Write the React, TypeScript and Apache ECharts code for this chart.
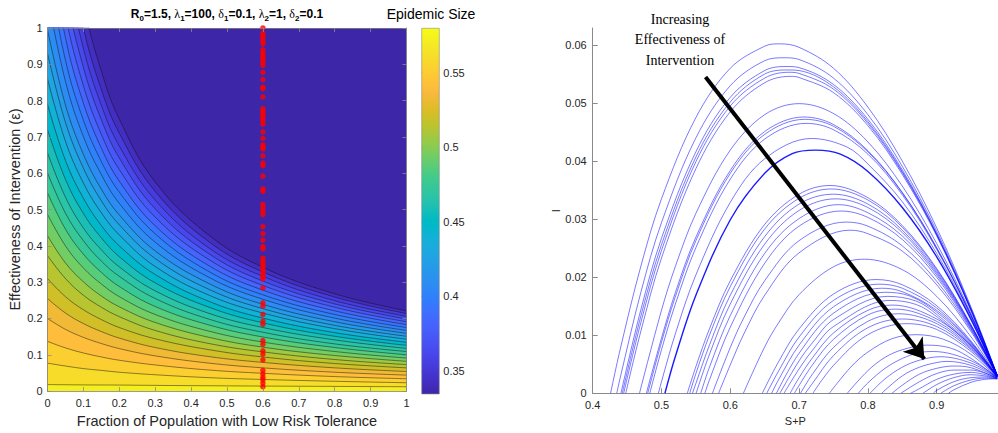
import React, { useEffect, useRef } from "react";
import * as echarts from "echarts";

// ---------- palette (MATLAB parula, 64 steps) ----------
const PARULA = [
  "#3e26a8", "#402ab4", "#422ec0", "#4332cb", "#4537d5", "#463cde", "#4741e5", "#4747eb",
  "#484df0", "#4852f4", "#4758f8", "#465efb", "#4563fd", "#4269fe", "#3e6fff", "#3875fe",
  "#327cfc", "#2f81fa", "#2e87f7", "#2d8cf3", "#2b91ef", "#2796eb", "#259be8", "#23a0e5",
  "#20a5e3", "#1ca9df", "#18addb", "#12b1d6", "#08b5d0", "#01b8ca", "#02bac3", "#0bbdbd",
  "#19bfb6", "#24c1ae", "#2cc4a7", "#31c69f", "#37c897", "#3fca8e", "#4acb84", "#57cc7a",
  "#64cd6f", "#72cd64", "#81cc59", "#8fcb4e", "#9dc943", "#abc739", "#b9c431", "#c5c22a",
  "#d1bf27", "#dcbd29", "#e6bb2d", "#f0ba36", "#f8ba3d", "#febe3c", "#fec338", "#fec934",
  "#fccf30", "#fad62d", "#f7dc2a", "#f5e327", "#f5e924", "#f6ef20", "#f7f51b", "#f9fb15",
];

// ---------- left panel data ----------
const COLOR_MIN = 0.3346;
const COLOR_MAX = 0.5798;
const COLORBAR_TICKS = [0.35, 0.4, 0.45, 0.5, 0.55];
const LEVELS = [
  0.344, 0.3534, 0.3629, 0.3723, 0.3817, 0.3912, 0.4006, 0.41, 0.4195, 0.4289, 0.4383, 0.4478, 0.4572,
  0.4666, 0.4761, 0.4855, 0.4949, 0.5044, 0.5138, 0.5232, 0.5327, 0.5421, 0.5515, 0.561, 0.5704,
];
const CONTOUR_F = [0, 0.05, 0.1, 0.15, 0.2, 0.3, 0.45, 0.6, 0.8, 1.0];
const CONTOUR_EPS = [
  [1.861, 1.357, 1.068, 0.881, 0.749, 0.576, 0.429, 0.341, 0.268, 0.221],
  [1.693, 1.257, 1.0, 0.83, 0.71, 0.55, 0.411, 0.328, 0.259, 0.2135],
  [1.569, 1.179, 0.944, 0.787, 0.675, 0.526, 0.394, 0.316, 0.249, 0.206],
  [1.456, 1.106, 0.891, 0.747, 0.642, 0.502, 0.378, 0.303, 0.24, 0.1985],
  [1.353, 1.037, 0.841, 0.707, 0.61, 0.479, 0.362, 0.291, 0.231, 0.191],
  [1.259, 0.973, 0.793, 0.669, 0.578, 0.455, 0.345, 0.278, 0.221, 0.183],
  [1.171, 0.911, 0.746, 0.632, 0.548, 0.433, 0.329, 0.265, 0.211, 0.175],
  [1.088, 0.853, 0.701, 0.596, 0.517, 0.41, 0.313, 0.253, 0.201, 0.167],
  [0.995, 0.788, 0.652, 0.556, 0.485, 0.386, 0.296, 0.239, 0.191, 0.159],
  [0.93, 0.74, 0.614, 0.524, 0.458, 0.365, 0.28, 0.227, 0.181, 0.151],
  [0.86, 0.688, 0.573, 0.491, 0.43, 0.343, 0.264, 0.215, 0.172, 0.143],
  [0.79, 0.635, 0.531, 0.456, 0.4, 0.321, 0.247, 0.201, 0.161, 0.1345],
  [0.72, 0.583, 0.489, 0.422, 0.37, 0.298, 0.231, 0.188, 0.151, 0.126],
  [0.656, 0.534, 0.449, 0.389, 0.342, 0.276, 0.214, 0.175, 0.141, 0.1175],
  [0.601, 0.49, 0.414, 0.358, 0.316, 0.255, 0.198, 0.162, 0.13, 0.109],
  [0.546, 0.446, 0.377, 0.327, 0.288, 0.233, 0.182, 0.149, 0.12, 0.1],
  [0.487, 0.4, 0.339, 0.295, 0.26, 0.211, 0.165, 0.135, 0.109, 0.091],
  [0.428, 0.353, 0.301, 0.262, 0.232, 0.189, 0.148, 0.121, 0.098, 0.082],
  [0.373, 0.31, 0.264, 0.231, 0.205, 0.167, 0.131, 0.108, 0.087, 0.073],
  [0.31, 0.26, 0.224, 0.197, 0.175, 0.144, 0.114, 0.094, 0.076, 0.064],
  [0.255, 0.215, 0.186, 0.164, 0.146, 0.12, 0.095, 0.079, 0.064, 0.054],
  [0.2, 0.17, 0.148, 0.131, 0.117, 0.097, 0.077, 0.064, 0.052, 0.044],
  [0.137, 0.119, 0.105, 0.094, 0.085, 0.072, 0.058, 0.049, 0.04, 0.034],
  [0.077, 0.069, 0.062, 0.057, 0.052, 0.045, 0.037, 0.032, 0.027, 0.023],
  [0.018, 0.0175, 0.017, 0.0168, 0.0166, 0.0157, 0.0147, 0.0138, 0.0129, 0.012],
];
const DOT_F = 0.6;
const DOT_EPS = [
  1.0, 0.985, 0.978, 0.971, 0.964, 0.956, 0.94, 0.933, 0.926, 0.919, 0.913, 0.905, 0.897, 0.878, 0.858,
  0.837, 0.833, 0.81, 0.778, 0.771, 0.764, 0.758, 0.75, 0.744, 0.735, 0.714, 0.696, 0.678, 0.672, 0.667,
  0.648, 0.628, 0.621, 0.592, 0.557, 0.55, 0.514, 0.505, 0.495, 0.486, 0.453, 0.434, 0.416, 0.398, 0.392,
  0.366, 0.359, 0.352, 0.344, 0.337, 0.33, 0.322, 0.315, 0.309, 0.284, 0.243, 0.234, 0.211, 0.193, 0.184,
  0.139, 0.129, 0.111, 0.102, 0.086, 0.057, 0.047, 0.038, 0.031, 0.022, 0.012,
];

// ---------- right panel data (S+P, I) ----------
const X_TICKS_R = [0.4, 0.5, 0.6, 0.7, 0.8, 0.9];
const Y_TICKS_R = [0, 0.01, 0.02, 0.03, 0.04, 0.05, 0.06];
const CURVES_A = [
  [[0.426, 0], [0.44, 0.0076], [0.47, 0.0219], [0.5, 0.0335], [0.55, 0.0475], [0.6, 0.056], [0.65, 0.0598], [0.672, 0.0602], [0.7, 0.0596], [0.75, 0.056], [0.8, 0.0493], [0.85, 0.04], [0.9, 0.0285], [0.95, 0.0148], [0.988, 0.0031]],
  [[0.435, 0], [0.44, 0.0027], [0.47, 0.0174], [0.5, 0.0294], [0.55, 0.044], [0.6, 0.053], [0.65, 0.0573], [0.678, 0.0578], [0.7, 0.0575], [0.75, 0.0543], [0.8, 0.048], [0.85, 0.0391], [0.9, 0.0279], [0.95, 0.0146], [0.988, 0.0031]],
  [[0.441, 0], [0.47, 0.0144], [0.5, 0.0267], [0.55, 0.0416], [0.6, 0.051], [0.65, 0.0556], [0.682, 0.0563], [0.7, 0.0561], [0.75, 0.0532], [0.8, 0.0472], [0.85, 0.0385], [0.9, 0.0275], [0.95, 0.0144], [0.988, 0.003]],
  [[0.443, 0], [0.47, 0.0133], [0.5, 0.0256], [0.55, 0.0407], [0.6, 0.0502], [0.65, 0.055], [0.684, 0.0557], [0.7, 0.0556], [0.75, 0.0528], [0.8, 0.0468], [0.85, 0.0382], [0.9, 0.0274], [0.95, 0.0143], [0.988, 0.003]],
  [[0.445, 0], [0.47, 0.0122], [0.5, 0.0246], [0.55, 0.0399], [0.6, 0.0495], [0.65, 0.0543], [0.685, 0.0553], [0.7, 0.0551], [0.75, 0.0524], [0.8, 0.0465], [0.85, 0.038], [0.9, 0.0273], [0.95, 0.0143], [0.988, 0.003]],
  [[0.448, 0], [0.47, 0.0107], [0.5, 0.0233], [0.55, 0.0387], [0.6, 0.0485], [0.65, 0.0535], [0.687, 0.0546], [0.7, 0.0544], [0.75, 0.0518], [0.8, 0.0461], [0.85, 0.0377], [0.9, 0.0271], [0.95, 0.0142], [0.988, 0.003]],
];
const CURVES_B = [
  [[0.468, 0], [0.5, 0.0143], [0.52, 0.0218], [0.55, 0.031], [0.6, 0.0419], [0.65, 0.048], [0.7, 0.0499], [0.75, 0.0482], [0.8, 0.0433], [0.85, 0.0357], [0.9, 0.0258], [0.95, 0.0137], [0.988, 0.0031]],
  [[0.478, 0], [0.5, 0.0095], [0.52, 0.0173], [0.55, 0.0269], [0.6, 0.0384], [0.65, 0.0451], [0.707, 0.0476], [0.75, 0.0463], [0.8, 0.0418], [0.85, 0.0346], [0.9, 0.0251], [0.95, 0.0134], [0.988, 0.003]],
  [[0.48, 0], [0.5, 0.0088], [0.52, 0.0166], [0.55, 0.0263], [0.6, 0.0379], [0.65, 0.0446], [0.708, 0.0472], [0.75, 0.046], [0.8, 0.0416], [0.85, 0.0345], [0.9, 0.025], [0.95, 0.0134], [0.988, 0.003]],
  [[0.483, 0], [0.5, 0.0075], [0.52, 0.0153], [0.55, 0.0251], [0.6, 0.0369], [0.65, 0.0438], [0.71, 0.0465], [0.75, 0.0454], [0.8, 0.0412], [0.85, 0.0342], [0.9, 0.0248], [0.95, 0.0133], [0.988, 0.003]],
  [[0.4955, 0], [0.5, 0.002], [0.52, 0.0102], [0.55, 0.0204], [0.6, 0.0329], [0.65, 0.0404], [0.718, 0.0439], [0.77, 0.0424], [0.8, 0.0395], [0.85, 0.033], [0.9, 0.0241], [0.95, 0.013], [0.988, 0.003]],
];
const CURVE_B_BOLD = [[0.505, 0], [0.52, 0.0063], [0.55, 0.0169], [0.6, 0.0299], [0.65, 0.0379], [0.69, 0.0413], [0.724, 0.0419], [0.76, 0.0412], [0.8, 0.0382], [0.85, 0.032], [0.9, 0.0235], [0.95, 0.0127], [0.988, 0.003]];
const CURVES_C = [
  [[0.5375, 0], [0.55, 0.0046], [0.57, 0.0112], [0.6, 0.0194], [0.65, 0.0291], [0.7, 0.0343], [0.745, 0.0358], [0.8, 0.0337], [0.85, 0.0289], [0.9, 0.0215], [0.95, 0.0118], [0.988, 0.003]],
  [[0.541, 0], [0.55, 0.0034], [0.57, 0.0101], [0.6, 0.0184], [0.65, 0.0283], [0.7, 0.0336], [0.747, 0.0352], [0.8, 0.0333], [0.85, 0.0286], [0.9, 0.0213], [0.95, 0.0117], [0.988, 0.003]],
  [[0.545, 0], [0.55, 0.0017], [0.57, 0.0084], [0.6, 0.0169], [0.65, 0.027], [0.7, 0.0326], [0.75, 0.0343], [0.8, 0.0326], [0.85, 0.0281], [0.9, 0.021], [0.95, 0.0116], [0.988, 0.003]],
  [[0.5503, 0], [0.57, 0.0068], [0.6, 0.0154], [0.65, 0.0257], [0.7, 0.0315], [0.753, 0.0335], [0.8, 0.032], [0.85, 0.0277], [0.9, 0.0207], [0.95, 0.0115], [0.988, 0.003]],
  [[0.557, 0], [0.57, 0.0046], [0.6, 0.0134], [0.65, 0.0241], [0.7, 0.0301], [0.757, 0.0325], [0.8, 0.0311], [0.85, 0.0271], [0.9, 0.0204], [0.95, 0.0113], [0.988, 0.003]],
  [[0.563, 0], [0.57, 0.0024], [0.6, 0.0114], [0.65, 0.0224], [0.7, 0.0288], [0.761, 0.0314], [0.8, 0.0303], [0.85, 0.0265], [0.9, 0.02], [0.95, 0.0111], [0.988, 0.003]],
  [[0.574, 0], [0.6, 0.0079], [0.62, 0.0131], [0.65, 0.0194], [0.7, 0.0263], [0.768, 0.0295], [0.8, 0.0288], [0.85, 0.0254], [0.9, 0.0193], [0.95, 0.0109], [0.988, 0.003]],
  [[0.583, 0], [0.6, 0.0049], [0.62, 0.0103], [0.65, 0.0169], [0.7, 0.0242], [0.774, 0.0281], [0.8, 0.0275], [0.85, 0.0245], [0.9, 0.0187], [0.95, 0.0106], [0.988, 0.003]],
];
const CURVES_D = [
  [[0.619, 0], [0.65, 0.008], [0.67, 0.0121], [0.7, 0.017], [0.75, 0.0218], [0.795, 0.0231], [0.85, 0.0213], [0.9, 0.0167], [0.95, 0.0097], [0.988, 0.0029]],
];
const CURVES_E = [
  [[0.6465, 0], [0.67, 0.0054], [0.7, 0.0111], [0.75, 0.0171], [0.812, 0.0196], [0.85, 0.0187], [0.9, 0.0151], [0.95, 0.009], [0.988, 0.0029]],
  [[0.653, 0], [0.67, 0.0038], [0.7, 0.0097], [0.75, 0.016], [0.816, 0.0188], [0.85, 0.0181], [0.9, 0.0147], [0.95, 0.0088], [0.988, 0.0029]],
  [[0.66, 0], [0.67, 0.0023], [0.7, 0.0083], [0.75, 0.0149], [0.82, 0.0181], [0.85, 0.0175], [0.9, 0.0143], [0.95, 0.0087], [0.988, 0.0029]],
  [[0.667, 0], [0.7, 0.0069], [0.75, 0.0138], [0.824, 0.0174], [0.86, 0.0168], [0.9, 0.014], [0.95, 0.0085], [0.988, 0.0029]],
  [[0.672, 0], [0.7, 0.0056], [0.72, 0.0088], [0.75, 0.0127], [0.828, 0.0167], [0.87, 0.0159], [0.9, 0.0136], [0.95, 0.0083], [0.988, 0.0029]],
  [[0.678, 0], [0.7, 0.0042], [0.72, 0.0075], [0.75, 0.0115], [0.832, 0.016], [0.87, 0.0153], [0.9, 0.0132], [0.95, 0.0082], [0.988, 0.0029]],
  [[0.687, 0], [0.7, 0.0027], [0.72, 0.0062], [0.75, 0.0104], [0.8, 0.0143], [0.836, 0.0152], [0.9, 0.0128], [0.95, 0.0081], [0.988, 0.0028]],
  [[0.693, 0], [0.72, 0.005], [0.75, 0.0093], [0.8, 0.0135], [0.84, 0.0145], [0.9, 0.0124], [0.95, 0.0079], [0.988, 0.0028]],
];
const CURVES_F = [
  [[0.702, 0], [0.72, 0.0034], [0.75, 0.0079], [0.8, 0.0124], [0.845, 0.0137], [0.9, 0.012], [0.95, 0.0077], [0.988, 0.0028]],
  [[0.709, 0], [0.72, 0.0018], [0.75, 0.0065], [0.8, 0.0113], [0.85, 0.0128], [0.9, 0.0115], [0.95, 0.0075], [0.988, 0.0028]],
  [[0.72, 0], [0.75, 0.0048], [0.8, 0.0101], [0.856, 0.012], [0.9, 0.011], [0.95, 0.0072], [0.988, 0.0028]],
];
const CURVES_G = [
  [[0.744, 0], [0.775, 0.0045], [0.8, 0.0071], [0.835, 0.0094], [0.87, 0.0101], [0.91, 0.0093], [0.95, 0.0067], [0.988, 0.0027]],
  [[0.77, 0], [0.8, 0.0039], [0.825, 0.0062], [0.85, 0.0075], [0.885, 0.0083], [0.92, 0.0078], [0.95, 0.006], [0.988, 0.0027]],
  [[0.786, 0], [0.8, 0.0018], [0.825, 0.0043], [0.85, 0.006], [0.875, 0.007], [0.895, 0.0072], [0.95, 0.0056], [0.988, 0.0027]],
  [[0.803, 0], [0.825, 0.0025], [0.85, 0.0045], [0.875, 0.0057], [0.905, 0.0063], [0.95, 0.0052], [0.988, 0.0027]],
];
const CURVES_H = [
  [[0.82, 0], [0.85, 0.003], [0.875, 0.0045], [0.9, 0.0053], [0.915, 0.0055], [0.95, 0.0048], [0.988, 0.0027]],
  [[0.835, 0], [0.85, 0.0014], [0.875, 0.0033], [0.9, 0.0043], [0.925, 0.0047], [0.95, 0.0044], [0.988, 0.0026]],
  [[0.848, 0], [0.875, 0.002], [0.9, 0.0034], [0.925, 0.004], [0.95, 0.004], [0.988, 0.0026]],
  [[0.862, 0], [0.875, 0.0008], [0.9, 0.0024], [0.925, 0.0033], [0.95, 0.0036], [0.988, 0.0026]],
  [[0.88, 0], [0.9, 0.0015], [0.925, 0.0027], [0.95, 0.0032], [0.97, 0.003], [0.988, 0.0026]],
  [[0.895, 0], [0.9, 0.0005], [0.925, 0.002], [0.95, 0.0027], [0.97, 0.0028], [0.988, 0.0025]],
  [[0.906, 0], [0.925, 0.0013], [0.95, 0.0023], [0.97, 0.0026], [0.988, 0.0025]],
  [[0.917, 0], [0.925, 0.0006], [0.95, 0.0019], [0.97, 0.0024], [0.988, 0.0025]],
];
const ARROW_START = [0.564, 0.0545];
const ARROW_END = [0.882, 0.0059];

const SANS = "'Liberation Sans', Arial, Helvetica, sans-serif";
const SERIF = "'Liberation Serif', 'Times New Roman', serif";
const AX = "#262626";

function bandColor(level: number) {
  const t = (level - COLOR_MIN) / (COLOR_MAX - COLOR_MIN);
  return PARULA[Math.max(0, Math.min(63, Math.round(t * 63)))];
}
const fmt = (v: number) => String(+(+v).toFixed(3));

export default function App() {
  const ref = useRef<HTMLDivElement>(null);
  useEffect(() => {
    document.body.style.margin = "0";
    const chart = echarts.init(ref.current!, undefined, { renderer: "svg" });

    const series: any[] = [];
    // filled contour bands (each area covers everything below its level line)
    LEVELS.forEach((lv, k) => {
      series.push({
        type: "line",
        xAxisIndex: 0,
        yAxisIndex: 0,
        data: CONTOUR_F.map((f, i) => [f, CONTOUR_EPS[k][i]]),
        smooth: 0.4,
        showSymbol: false,
        clip: true,
        silent: true,
        lineStyle: { color: "#111", width: 0.6, opacity: 0.8 },
        areaStyle: { color: bandColor(lv), opacity: 1, origin: "start" },
        z: 2,
      });
    });
    series.push({
      type: "scatter",
      xAxisIndex: 0,
      yAxisIndex: 0,
      data: DOT_EPS.map((e) => [DOT_F, e]),
      symbolSize: 5.5,
      itemStyle: { color: "#ff0000" },
      z: 6,
    });

    const addCurves = (list: number[][][], width: number, opacity: number) => {
      list.forEach((c) =>
        series.push({
          type: "line",
          xAxisIndex: 3,
          yAxisIndex: 3,
          data: c,
          smooth: 0.35,
          showSymbol: false,
          silent: true,
          lineStyle: { color: "#0000ff", width, opacity },
          z: 2,
        })
      );
    };
    addCurves(CURVES_A, 0.75, 0.7);
    addCurves(CURVES_B, 0.75, 0.7);
    addCurves([CURVE_B_BOLD], 1.4, 0.9);
    addCurves(CURVES_C, 0.75, 0.7);
    addCurves(CURVES_D, 0.75, 0.7);
    addCurves(CURVES_E, 0.75, 0.7);
    addCurves(CURVES_F, 0.75, 0.7);
    addCurves(CURVES_G, 0.75, 0.7);
    addCurves(CURVES_H, 0.75, 0.7);
    series.push({
      type: "line",
      xAxisIndex: 3,
      yAxisIndex: 3,
      data: [],
      z: 8,
      markLine: {
        silent: true,
        symbol: ["none", "arrow"],
        symbolSize: 19,
        label: { show: false },
        lineStyle: { color: "#000", width: 4, type: "solid" },
        data: [[{ coord: ARROW_START }, { coord: ARROW_END }]],
      },
    });

    const tickStyleLeft = { inside: true, length: 4, lineStyle: { color: "#8a8a8a", width: 0.8 } };
    const option: any = {
      animation: false,
      grid: [
        { left: 47.5, top: 28, width: 359, height: 366, show: true, backgroundColor: PARULA[0], borderWidth: 0 },
        { left: 421.7, top: 28.3, width: 17.6, height: 365.7 },
        { left: 592.7, top: 28, width: 405.3, height: 365.3 },
      ],
      xAxis: [
        {
          gridIndex: 0, type: "value", min: 0, max: 1, interval: 0.1, position: "bottom", z: 10,
          axisLine: { onZero: false, lineStyle: { color: "#808080", width: 0.8 } },
          axisTick: tickStyleLeft,
          axisLabel: { color: AX, fontSize: 11, fontFamily: SANS, margin: 6, formatter: fmt },
          splitLine: { show: false },
          name: "Fraction of Population with Low Risk Tolerance",
          nameLocation: "middle", nameGap: 20,
          nameTextStyle: { color: AX, fontSize: 14.5, fontFamily: SANS },
        },
        {
          gridIndex: 0, type: "value", min: 0, max: 1, interval: 0.1, position: "top", z: 10,
          axisLine: { onZero: false, lineStyle: { color: "#808080", width: 0.8 } },
          axisTick: tickStyleLeft, axisLabel: { show: false }, splitLine: { show: false },
        },
        { gridIndex: 1, type: "value", min: 0, max: 1, show: false },
        {
          gridIndex: 2, type: "value", min: 0.4, max: 0.9891,
          axisLine: { onZero: false, lineStyle: { color: "#8a8a8a", width: 1 } },
          axisTick: { inside: true, length: 5, customValues: X_TICKS_R, lineStyle: { color: "#8a8a8a" } },
          axisLabel: { customValues: X_TICKS_R, color: AX, fontSize: 11, fontFamily: SANS, margin: 6, formatter: fmt },
          splitLine: { show: false },
          name: "S+P", nameLocation: "middle", nameGap: 20,
          nameTextStyle: { color: AX, fontSize: 11, fontFamily: SANS },
        },
      ],
      yAxis: [
        {
          gridIndex: 0, type: "value", min: 0, max: 1, interval: 0.1, position: "left", z: 10,
          axisLine: { onZero: false, lineStyle: { color: "#808080", width: 0.8 } },
          axisTick: tickStyleLeft,
          axisLabel: { color: AX, fontSize: 11, fontFamily: SANS, margin: 5, formatter: fmt },
          splitLine: { show: false },
          name: "Effectiveness of Intervention (\u03b5)",
          nameLocation: "middle", nameGap: 25,
          nameTextStyle: { color: AX, fontSize: 14.5, fontFamily: SANS },
        },
        {
          gridIndex: 0, type: "value", min: 0, max: 1, interval: 0.1, position: "right", z: 10,
          axisLine: { onZero: false, lineStyle: { color: "#808080", width: 0.8 } },
          axisTick: tickStyleLeft, axisLabel: { show: false }, splitLine: { show: false },
        },
        {
          gridIndex: 1, type: "value", min: COLOR_MIN, max: COLOR_MAX, position: "right",
          axisLine: { show: false },
          axisTick: { show: true, customValues: COLORBAR_TICKS, length: 3, lineStyle: { color: "#666" } },
          axisLabel: { customValues: COLORBAR_TICKS, color: AX, fontSize: 11, fontFamily: SANS, margin: 4, formatter: fmt },
          splitLine: { show: false },
        },
        {
          gridIndex: 2, type: "value", min: 0, max: 0.06293,
          axisLine: { onZero: false, lineStyle: { color: "#8a8a8a", width: 1 } },
          axisTick: { inside: true, length: 5, customValues: Y_TICKS_R, lineStyle: { color: "#8a8a8a" } },
          axisLabel: { customValues: Y_TICKS_R, color: AX, fontSize: 11, fontFamily: SANS, margin: 6, formatter: fmt },
          splitLine: { show: false },
          name: "I", nameLocation: "middle", nameGap: 30,
          nameTextStyle: { color: AX, fontSize: 11, fontFamily: SANS },
        },
      ],
      graphic: [
        {
          type: "rect",
          shape: { x: 421.7, y: 28.3, width: 17.6, height: 365.7 },
          style: {
            fill: new echarts.graphic.LinearGradient(0, 1, 0, 0, PARULA.map((c, i) => ({ offset: i / 63, color: c }))),
            stroke: "#8a8a8a",
            lineWidth: 0.6,
          },
          z: 1,
        },
        {
          type: "text",
          x: 431,
          y: 14,
          style: {
            text: "Epidemic Size",
            fill: "#000",
            font: `14px ${SANS}`,
            align: "center",
            verticalAlign: "middle",
          },
        },
        {
          type: "text",
          x: 227,
          y: 14,
          style: {
            text: "{b|R}{s|0}{b|=1.5, }{g|\u03bb}{s|1}{b|=100, }{g|\u03b4}{s|1}{b|=0.1, }{g|\u03bb}{s|2}{b|=1, }{g|\u03b4}{s|2}{b|=0.1}",
            align: "center",
            verticalAlign: "middle",
            fill: "#000",
            rich: {
              b: { fontSize: 12, fontWeight: "bold", fontFamily: SANS, lineHeight: 16, fill: "#000" },
              g: { fontSize: 12, fontFamily: SERIF, lineHeight: 16, fill: "#000" },
              s: { fontSize: 8, fontWeight: "bold", fontFamily: SANS, lineHeight: 8, verticalAlign: "bottom", fill: "#000" },
            },
          },
        },
        {
          type: "text",
          x: 680,
          y: 9,
          style: {
            text: "Increasing\nEffectiveness of\nIntervention",
            fill: "#000",
            font: `14px ${SERIF}`,
            lineHeight: 20.5,
            align: "center",
            verticalAlign: "top",
          },
        },
      ],
      series,
    };
    chart.setOption(option);
    return () => chart.dispose();
  }, []);
  return <div ref={ref} style={{ width: 998, height: 433 }} />;
}
